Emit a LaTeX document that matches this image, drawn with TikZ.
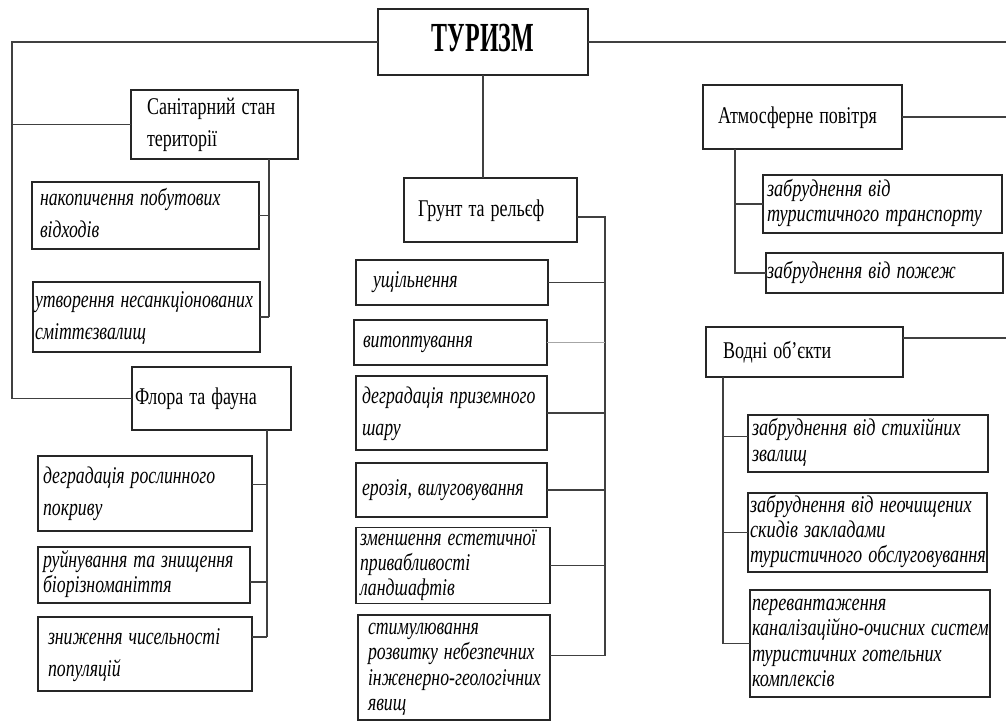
\documentclass[tikz,border=0pt]{standalone}
\usepackage{fontspec}
\usepackage{graphicx}
\setmainfont{Liberation Serif}
\tikzset{
  box/.style={draw=black!85, line width=1.25pt, rectangle, inner ysep=0pt, outer sep=0pt, align=left, text=black},
  headbox/.style={font={\def\sqz{0.75}\fontsize{18}{24}\selectfont}},
  itembox/.style={font={\def\sqz{0.74}\itshape\fontsize{18}{19}\selectfont}},
  itemr/.style={font={\def\sqz{0.76}\itshape\fontsize{18}{19}\selectfont}},
  iteml/.style={font={\def\sqz{0.74}\itshape\fontsize{18}{24}\selectfont}},
  titlebox/.style={font={\def\sqz{0.58}\bfseries\fontsize{31}{36}\selectfont}, align=center},
  link/.style={draw=black!75, line width=1.1pt},
  faint/.style={draw=black!35, line width=0.6pt},
}
\newcommand\mkbox[8]{%
  \pgfmathsetlengthmacro\bw{(#4-#2)*0.75pt}%
  \pgfmathsetlengthmacro\bh{(#5-#3)*0.75pt}%
  \pgfmathsetlengthmacro\tw{(#4-#2-2*#6)*0.75pt}%
  \pgfmathsetlengthmacro\isep{#6*0.75pt}%
  \node[box,#7,minimum width=\bw,minimum height=\bh,text width=\tw,inner xsep=\isep] (#1) at ({(#2+#4)/2},{(#3+#5)/2}) {\scalebox{\sqz}[1]{\begin{tabular}{@{}l@{}}#8\end{tabular}}};}
\begin{document}
\begin{tikzpicture}[x=0.75pt,y=-0.75pt]
\useasboundingbox (0,0) rectangle (1006,722);
% boxes
\mkbox{tur}{378}{9}{588}{75}{4}{titlebox}{ТУРИЗМ}
\mkbox{san}{131}{90}{298}{159}{16}{headbox}{Санітарний стан\\території}
\mkbox{nak}{32}{182}{259}{249}{8}{iteml}{накопичення побутових\\відходів}
\mkbox{ut}{33}{282}{260}{352}{2}{iteml}{утворення несанкціонованих\\сміттєзвалищ}
\mkbox{flora}{132}{367}{291}{430}{3}{headbox}{Флора та фауна}
\mkbox{dg}{38}{456}{252}{531}{5}{iteml}{деградація рослинного\\покриву}
\mkbox{ru}{38}{547}{250}{603}{5}{itembox}{руйнування та знищення\\біорізноманіття}
\mkbox{zn}{38}{617}{252}{691}{10}{iteml}{зниження чисельності\\популяцій}
\mkbox{gr}{404}{178}{577}{242}{14}{headbox}{Грунт та рельєф}
\mkbox{u1}{356}{260}{548}{305}{17}{itembox}{ущільнення}
\mkbox{vy}{354}{320}{547}{365}{9}{itembox}{витоптування}
\mkbox{dp}{356}{376}{547}{450}{6}{iteml}{деградація приземного\\шару}
\mkbox{er}{356}{463}{547}{517}{6}{itembox}{ерозія, вилуговування}
\mkbox{zm}{356}{528}{550}{603}{4}{itembox}{зменшення естетичної\\привабливості\\ландшафтів}
\mkbox{sti}{358}{615}{550}{720}{10}{itembox}{стимулювання\\розвитку небезпечних\\інженерно-геологічних\\явищ}
\mkbox{atm}{703}{85}{902}{149}{15}{headbox}{Атмосферне повітря}
\mkbox{tr}{763}{175}{1002}{233}{4}{itemr}{забруднення від\\туристичного транспорту}
\mkbox{poz}{766}{253}{1003}{293}{1}{itemr}{забруднення від пожеж}
\mkbox{vod}{706}{327}{903}{377}{17}{headbox}{Водні об’єкти}
\mkbox{st}{748}{415}{988}{472}{4}{itemr}{забруднення від стихійних\\звалищ}
\mkbox{ne}{748}{493}{987}{572}{2}{itemr}{забруднення від неочищених\\скидів закладами\\туристичного обслуговування}
\mkbox{pe}{750}{590}{990}{697}{2}{itemr}{перевантаження\\каналізаційно-очисних систем\\туристичних готельних\\комплексів}
% helper coordinates
\coordinate (L) at (12,43);
\coordinate (R) at (1006,42);
\coordinate (SX) at (269,0);
\coordinate (FX) at (267,0);
\coordinate (GX) at (605,0);
\coordinate (AX) at (735,0);
\coordinate (VX) at (723,0);
\coordinate (dgC) at ([yshift=6.75pt]dg.east);
\coordinate (ruC) at ([yshift=-5.25pt]ru.east);
\coordinate (znC) at ([yshift=12.75pt]zn.east);
\coordinate (grC) at ([yshift=-5.25pt]gr.east);
\coordinate (stiC) at ([yshift=9pt]sti.east);
\coordinate (stC) at ([yshift=5.25pt]st.west);
\coordinate (vodC) at ([yshift=10.5pt]vod.east);
% top level
\draw[link] (tur.west) -- (tur.west -| L) -- (L |- flora.west) -- (flora.west);
\draw[link] (san.west) -- (san.west -| L);
\draw[link] (tur.east) -- (tur.east -| R);
\draw[link] (atm.east) -- (atm.east -| R);
\draw[link, line width=1.6pt] (vodC) -- (vodC -| R);
\draw[link] (tur.south) -- (tur.south |- gr.north);
% sanitary
\draw[link] (san.south -| SX) -- (ut.east -| SX);
\draw[link] (nak.east) -- (nak.east -| SX);
\draw[link] (ut.east) -- (ut.east -| SX);
% flora
\draw[link] (flora.south -| FX) -- (znC -| FX);
\draw[link] (dgC) -- (dgC -| FX);
\draw[link] (ruC) -- (ruC -| FX);
\draw[link] (znC) -- (znC -| FX);
% soil
\draw[link] (grC) -- (grC -| GX) -- (stiC -| GX) -- (stiC);
\draw[link] (u1.east) -- (u1.east -| GX);
\draw[faint] (vy.east) -- (vy.east -| GX);
\draw[link] (dp.east) -- (dp.east -| GX);
\draw[link] (er.east) -- (er.east -| GX);
\draw[link] (zm.east) -- (zm.east -| GX);
% air
\draw[link] (atm.south -| AX) -- (AX |- poz.west) -- (poz.west);
\draw[link] (tr.west) -- (tr.west -| AX);
% water
\draw[link] (vod.south -| VX) -- (VX |- pe.west) -- (pe.west);
\draw[link] (stC) -- (stC -| VX);
\draw[link] (ne.west) -- (ne.west -| VX);
\end{tikzpicture}
\end{document}
